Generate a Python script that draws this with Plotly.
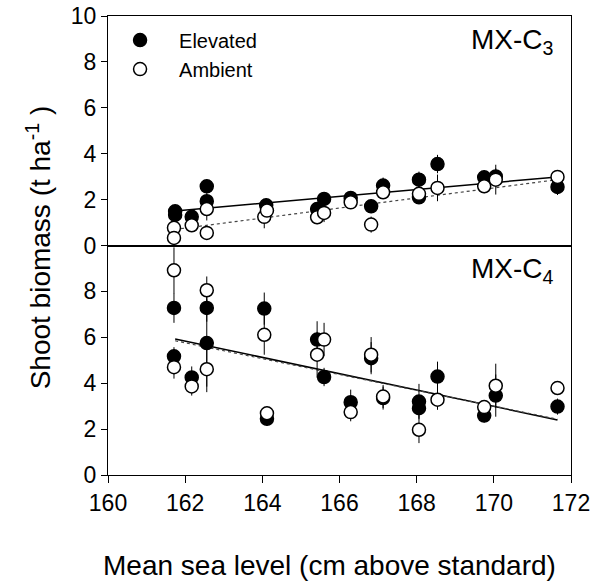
import plotly.graph_objects as go
from plotly.subplots import make_subplots

# ---- data ----
c3_elev_x = [161.74, 161.74, 162.17, 162.56, 162.56, 164.10, 165.42, 165.60, 166.29, 166.82, 167.13, 168.06, 168.06, 168.54, 169.75, 170.05, 171.65]
c3_elev_y = [1.49, 1.33, 1.25, 2.58, 1.93, 1.75, 1.59, 2.03, 2.07, 1.71, 2.61, 2.87, 2.10, 3.55, 2.97, 3.01, 2.55]
c3_elev_e = [0.25, 0.2, 0.2, 0.3, 0.35, 0.3, 0.25, 0.2, 0.2, 0.3, 0.35, 0.35, 0.2, 0.4, 0.3, 0.35, 0.35]

c3_amb_x = [161.71, 161.71, 162.17, 162.56, 162.56, 164.05, 164.12, 165.42, 165.60, 166.29, 166.82, 167.13, 168.06, 168.54, 169.75, 170.05, 171.65]
c3_amb_y = [0.77, 0.33, 0.88, 1.59, 0.55, 1.25, 1.52, 1.23, 1.42, 1.88, 0.91, 2.32, 2.25, 2.51, 2.58, 2.87, 2.99]
c3_amb_e = [0.2, 0.25, 0.2, 0.5, 0.2, 0.5, 0.3, 0.3, 0.4, 0.2, 0.35, 0.2, 0.3, 0.58, 0.3, 0.65, 0.2]

c4_elev_x = [161.71, 161.71, 162.17, 162.56, 162.56, 164.05, 164.12, 165.42, 165.60, 166.29, 166.82, 167.13, 168.06, 168.06, 168.54, 169.75, 170.05, 171.65]
c4_elev_y = [7.28, 5.17, 4.25, 7.28, 5.75, 7.25, 2.45, 5.90, 4.27, 3.17, 5.09, 3.35, 3.20, 2.91, 4.29, 2.59, 3.46, 2.98]
c4_elev_e = [0.65, 0.4, 0.48, 0.6, 1.9, 0.7, 0.3, 0.8, 0.4, 0.55, 0.7, 0.5, 0.77, 0.4, 0.65, 0.3, 0.92, 0.35]

c4_amb_x = [161.71, 161.71, 162.17, 162.56, 162.56, 164.05, 164.12, 165.42, 165.60, 166.29, 166.82, 167.13, 168.06, 168.54, 169.75, 170.05, 171.65]
c4_amb_y = [8.92, 4.70, 3.86, 8.05, 4.61, 6.11, 2.69, 5.24, 5.90, 2.74, 5.24, 3.42, 1.97, 3.28, 2.96, 3.89, 3.79]
c4_amb_e = [1.0, 0.5, 0.4, 0.6, 1.0, 0.87, 0.3, 1.0, 0.73, 0.4, 0.77, 0.5, 0.58, 0.44, 0.3, 0.96, 0.3]

fit_x = [161.74, 171.65]
c3_elev_fit = [1.50, 2.99]
c3_amb_fit = [0.70, 2.87]
c4_elev_fit = [5.93, 2.40]
c4_amb_fit = [5.85, 2.43]

x_ticks = [160, 162, 164, 166, 168, 170, 172]
top_y_ticks = [0, 2, 4, 6, 8, 10]
bot_y_ticks = [0, 2, 4, 6, 8]

FONT = "Liberation Sans, Arial, sans-serif"

fig = make_subplots(rows=2, cols=1, shared_xaxes=True, vertical_spacing=0)

def pts(x, y, e, filled, name, show):
    return go.Scatter(
        x=x, y=y, mode="markers", name=name, showlegend=show,
        marker=dict(size=13, color="black" if filled else "white",
                    line=dict(color="black", width=1.5)),
        error_y=dict(type="data", array=e, visible=True, color="black", thickness=1, width=0),
    )

# fit lines
fig.add_trace(go.Scatter(x=fit_x, y=c3_elev_fit, mode="lines", line=dict(color="black", width=1.5), showlegend=False), row=1, col=1)
fig.add_trace(go.Scatter(x=fit_x, y=c3_amb_fit, mode="lines", line=dict(color="#444", width=1.2, dash="dot"), showlegend=False), row=1, col=1)
fig.add_trace(go.Scatter(x=fit_x, y=c4_elev_fit, mode="lines", line=dict(color="black", width=1.5), showlegend=False), row=2, col=1)
fig.add_trace(go.Scatter(x=fit_x, y=c4_amb_fit, mode="lines", line=dict(color="#444", width=1.2, dash="dot"), showlegend=False), row=2, col=1)

fig.add_trace(pts(c3_elev_x, c3_elev_y, c3_elev_e, True, "Elevated", True), row=1, col=1)
fig.add_trace(pts(c3_amb_x, c3_amb_y, c3_amb_e, False, "Ambient", True), row=1, col=1)
fig.add_trace(pts(c4_elev_x, c4_elev_y, c4_elev_e, True, "Elevated", False), row=2, col=1)
fig.add_trace(pts(c4_amb_x, c4_amb_y, c4_amb_e, False, "Ambient", False), row=2, col=1)

axis_common = dict(showline=True, linecolor="black", linewidth=1, mirror=True,
                   showgrid=False, zeroline=False, automargin=False)

fig.update_xaxes(**axis_common, range=[160, 172], tickvals=x_ticks)
fig.update_xaxes(ticks="", showticklabels=False, row=1, col=1)
fig.update_xaxes(ticks="outside", ticklen=7, tickcolor="black", ticklabeloverflow="allow",
                 tickfont=dict(size=23, color="black", family=FONT),
                 row=2, col=1)
fig.update_yaxes(**axis_common, range=[0, 10], ticks="outside", ticklen=6, tickcolor="black",
                 ticklabeloverflow="allow",
                 tickfont=dict(size=23, color="black", family=FONT))
fig.update_yaxes(tickvals=top_y_ticks, row=1, col=1)
fig.update_yaxes(tickvals=bot_y_ticks, row=2, col=1)
fig.update_yaxes(domain=[0.5, 1.0], row=1, col=1)
fig.update_yaxes(domain=[0.0, 0.5], row=2, col=1)

fig.add_annotation(text="Shoot biomass (t ha<sup>-1</sup> )", xref="paper", yref="paper",
                   x=-0.149, y=0.496, textangle=-90, showarrow=False,
                   xanchor="center", yanchor="middle",
                   font=dict(size=28, color="black", family=FONT))
fig.add_annotation(text="Mean sea level (cm above standard)", xref="paper", yref="paper",
                   x=0.479, y=-0.198, showarrow=False, xanchor="center", yanchor="middle",
                   font=dict(size=28, color="black", family=FONT))

fig.add_annotation(text="MX-C<sub>3</sub>", xref="x", yref="y", x=171.62, y=8.9,
                   xanchor="right", showarrow=False, font=dict(size=28, color="black", family=FONT))
fig.add_annotation(text="MX-C<sub>4</sub>", xref="x2", yref="y2", x=171.62, y=8.9,
                   xanchor="right", showarrow=False, font=dict(size=28, color="black", family=FONT))

fig.update_layout(
    width=602, height=582,
    margin=dict(l=108, r=31, t=16, b=107, autoexpand=False),
    paper_bgcolor="white", plot_bgcolor="white",
    font=dict(family=FONT, color="black"),
    legend=dict(x=-0.015, y=0.99, xanchor="left", yanchor="top", itemwidth=68,
                bgcolor="rgba(0,0,0,0)", font=dict(size=20, color="black", family=FONT)),
)

# remove the browser's default 8px body margin so the figure fills the window exactly
fig.write_html("out.html", config={"displayModeBar": False},
               post_script="document.body.style.margin='0';")
